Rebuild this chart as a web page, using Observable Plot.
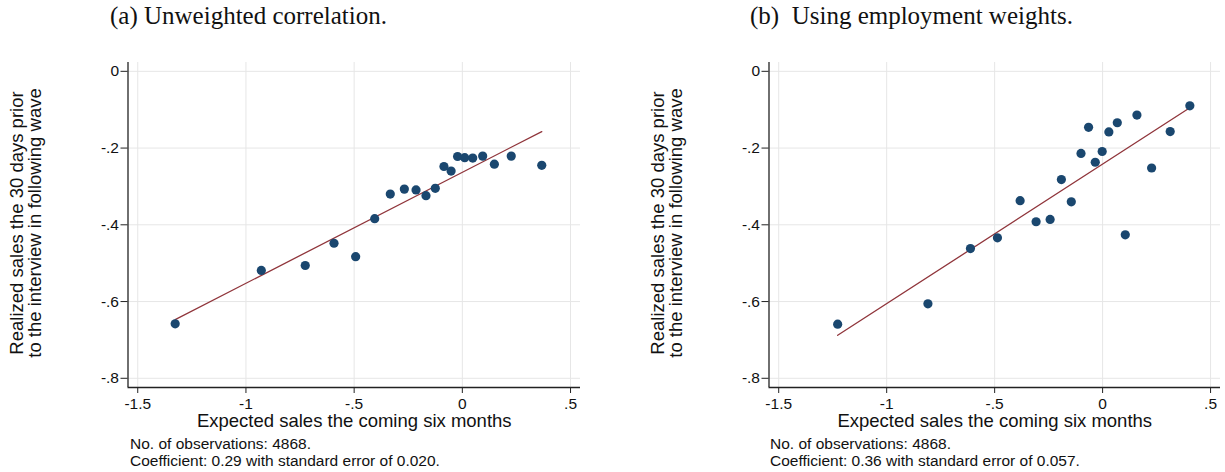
<!DOCTYPE html>
<html>
<head>
<meta charset="utf-8">
<script src="https://cdn.jsdelivr.net/npm/d3@7"></script>
<script src="https://cdn.jsdelivr.net/npm/@observablehq/plot@0.6"></script>
<style>
  body { margin: 0; background: #fff; }
  #root { position: relative; width: 1225px; height: 472px; overflow: hidden; background: #fff; }
  .title { position: absolute; top: 2px; font-family: "Liberation Serif", "DejaVu Serif", serif; font-size: 25px; color: #111; white-space: pre; }
  .note { position: absolute; font-family: "Liberation Sans", Arial, sans-serif; font-size: 15.5px; line-height: 17px; color: #111; white-space: pre; }
  .panel { position: absolute; top: 40px; }
</style>
</head>
<body>
<div id="root">
  <div class="title" id="titleA" style="left:110px">(a) Unweighted correlation.</div>
  <div class="title" id="titleB" style="left:750px">(b)  Using employment weights.</div>
  <div class="panel" id="panelA" style="left:0px"></div>
  <div class="panel" id="panelB" style="left:640px"></div>
  <div class="note" id="noteA" style="left:130px; top:435px"></div>
  <div class="note" id="noteB" style="left:770px; top:435px"></div>
</div>
<script>
// ---- data ----
const xTicks = [-1.5, -1, -0.5, 0, 0.5];
const yTicks = [0, -0.2, -0.4, -0.6, -0.8];
const xLabel = "Expected sales the coming six months";
const yLabel = "Realized sales the 30 days prior\nto the interview in following wave";

const xA = [-1.327, -0.929, -0.726, -0.593, -0.493, -0.405, -0.333, -0.268, -0.214, -0.168, -0.125, -0.085, -0.052, -0.022, 0.011, 0.048, 0.094, 0.148, 0.226, 0.367];
const yA = [-0.658, -0.519, -0.506, -0.448, -0.483, -0.384, -0.320, -0.307, -0.309, -0.324, -0.305, -0.248, -0.260, -0.222, -0.225, -0.226, -0.221, -0.242, -0.221, -0.245];
const fitAx = [-1.327, 0.367];
const fitAy = [-0.647, -0.157];

const xB = [-1.227, -0.809, -0.612, -0.487, -0.382, -0.308, -0.243, -0.191, -0.145, -0.100, -0.065, -0.034, -0.002, 0.029, 0.068, 0.105, 0.159, 0.227, 0.313, 0.404];
const yB = [-0.659, -0.606, -0.462, -0.434, -0.337, -0.392, -0.386, -0.282, -0.340, -0.214, -0.146, -0.237, -0.209, -0.158, -0.134, -0.426, -0.114, -0.252, -0.157, -0.090];
const fitBx = [-1.227, 0.404];
const fitBy = [-0.688, -0.095];

const notesA = ["No. of observations: 4868.", "Coefficient: 0.29 with standard error of 0.020."];
const notesB = ["No. of observations: 4868.", "Coefficient: 0.36 with standard error of 0.057."];

// ---- styling ----
const xDomain = [-1.545, 0.546];
const yDomain = [-0.824, 0.023];
const dotColor = "#1a476f";
const lineColor = "#90353b";
const gridColor = "#e6e6e6";
const axisColor = "#222";

const fmt = d => d === 0 ? "0" : (d < 0 ? "-" : "") + String(Math.abs(d)).replace(/^0/, "");

function panel(xs, ys, fx, fy, marginLeft) {
  const pts = xs.map((x, i) => ({x, y: ys[i]}));
  const fit = fx.map((x, i) => ({x, y: fy[i]}));
  return Plot.plot({
    width: 585,
    height: 410,
    marginLeft: marginLeft,
    marginRight: 5,
    marginTop: 22,
    marginBottom: 63,
    style: {fontFamily: "'Liberation Sans', Arial, sans-serif", fontSize: "15px", color: "#111", background: "transparent"},
    x: {domain: xDomain, axis: null},
    y: {domain: yDomain, axis: null},
    marks: [
      Plot.gridX(xTicks, {stroke: gridColor, strokeOpacity: 1, strokeWidth: 1}),
      Plot.gridY(yTicks, {stroke: gridColor, strokeOpacity: 1, strokeWidth: 1}),
      Plot.axisX(xTicks, {tickFormat: fmt, tickSize: 6, tickPadding: 4, fontSize: 15.5, stroke: axisColor, fill: "#111", label: null}),
      Plot.axisY(yTicks, {tickFormat: fmt, tickSize: 7, tickPadding: 2, fontSize: 15.5, stroke: axisColor, fill: "#111", label: null}),
      Plot.ruleX([xDomain[0]], {stroke: axisColor, strokeWidth: 1.3}),
      Plot.ruleY([yDomain[0]], {stroke: axisColor, strokeWidth: 1.3}),
      Plot.line(fit, {x: "x", y: "y", stroke: lineColor, strokeWidth: 1.3}),
      Plot.dot(pts, {x: "x", y: "y", r: 4.6, fill: dotColor, stroke: "none"}),
      Plot.text([xLabel], {frameAnchor: "bottom", dy: 39, fontSize: 18.5, fill: "#111"}),
      Plot.text([yLabel], {frameAnchor: "left", textAnchor: "middle", lineAnchor: "middle", rotate: -90, dx: -102, dy: -2, fontSize: 18.5, lineHeight: 0.98, fill: "#111"})
    ]
  });
}

document.getElementById("panelA").append(panel(xA, yA, fitAx, fitAy, 127.5));
document.getElementById("panelB").append(panel(xB, yB, fitBx, fitBy, 128.5));
document.getElementById("noteA").textContent = notesA.join("\n");
document.getElementById("noteB").textContent = notesB.join("\n");
</script>
</body>
</html>
